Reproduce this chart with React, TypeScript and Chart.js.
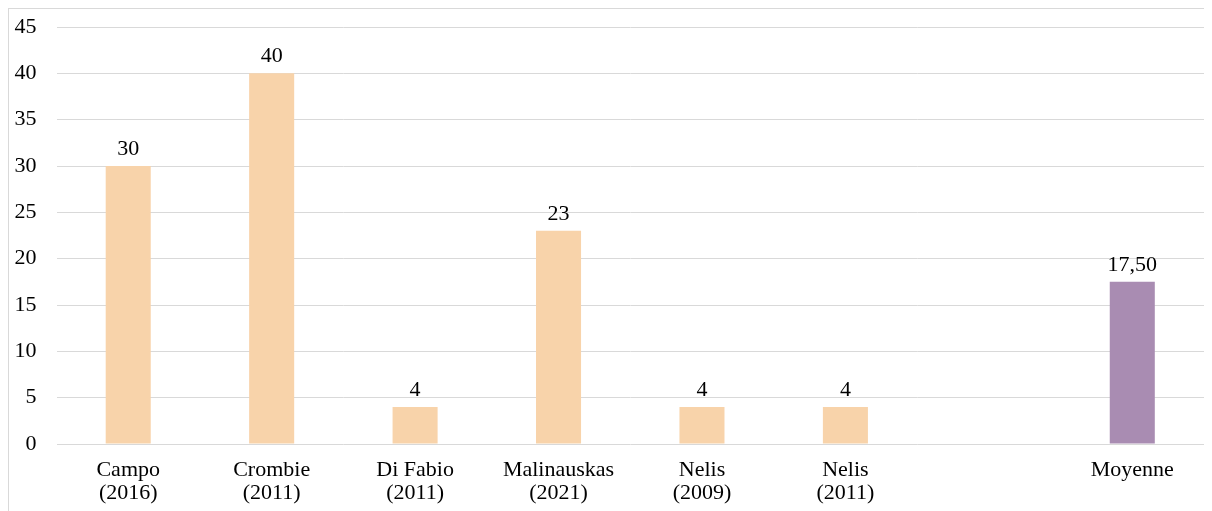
import React, { useEffect, useRef } from "react";
import { Chart, registerables } from "chart.js";

Chart.register(...registerables);

const categories: (string | string[])[] = [
  ["Campo", "(2016)"],
  ["Crombie", "(2011)"],
  ["Di Fabio", "(2011)"],
  ["Malinauskas", "(2021)"],
  ["Nelis", "(2009)"],
  ["Nelis", "(2011)"],
  "",
  "Moyenne",
];
const values: (number | null)[] = [30, 40, 4, 23, 4, 4, null, 17.5];
const valueLabels: string[] = ["30", "40", "4", "23", "4", "4", "", "17,50"];
const barColors: string[] = [
  "#F8D3AA",
  "#F8D3AA",
  "#F8D3AA",
  "#F8D3AA",
  "#F8D3AA",
  "#F8D3AA",
  "#F8D3AA",
  "#A98CB2",
];
const yTicks = { min: 0, max: 45, step: 5 };

const FONT = "'Liberation Serif', 'Times New Roman', serif";

const dataLabelPlugin = {
  id: "dataLabels",
  afterDatasetsDraw(chart: any) {
    const ctx = chart.ctx;
    const meta = chart.getDatasetMeta(0);
    ctx.save();
    ctx.font = `22px ${FONT}`;
    ctx.fillStyle = "#000";
    ctx.textAlign = "center";
    ctx.textBaseline = "alphabetic";
    meta.data.forEach((bar: any, i: number) => {
      if (values[i] == null) return;
      ctx.fillText(valueLabels[i], bar.x, bar.y - 11);
    });
    ctx.restore();
  },
};

export default function App() {
  const ref = useRef<HTMLCanvasElement>(null);
  useEffect(() => {
    if (!ref.current) return;
    const chart = new Chart(ref.current, {
      type: "bar",
      data: {
        labels: categories,
        datasets: [
          {
            data: values,
            backgroundColor: barColors,
            barPercentage: 0.314,
            categoryPercentage: 1,
          },
        ],
      },
      options: {
        animation: false,
        responsive: false,
        devicePixelRatio: 1,
        layout: { padding: { top: 18, left: 0, right: 0, bottom: 0 } },
        plugins: { legend: { display: false }, tooltip: { enabled: false } },
        scales: {
          x: {
            grid: { display: false, drawTicks: false },
            border: { display: false },
            ticks: {
              color: "#000",
              font: { family: FONT, size: 22, lineHeight: 1.05 },
              padding: 15,
              maxRotation: 0,
              autoSkip: false,
            },
            afterFit: (s: any) => {
              s.height = 67;
              s.paddingLeft = 0;
              s.paddingRight = 0;
            },
          },
          y: {
            min: yTicks.min,
            max: yTicks.max,
            grid: { color: "#D9D9D9", drawTicks: false, lineWidth: 1 },
            border: { display: false },
            ticks: {
              stepSize: yTicks.step,
              color: "#000",
              font: { family: FONT, size: 22 },
              padding: 20,
            },
            afterFit: (s: any) => {
              s.width = 47.5;
              s.paddingTop = 0;
              s.paddingBottom = 0;
            },
          },
        },
      },
      plugins: [dataLabelPlugin],
    });
    return () => chart.destroy();
  }, []);
  return (
    <div
      style={{
        width: 1196,
        height: 503,
        borderLeft: "1px solid #D9D9D9",
        borderTop: "1px solid #D9D9D9",
        boxSizing: "border-box",
        background: "#fff",
      }}
    >
      <canvas ref={ref} width={1195} height={502} style={{ display: "block" }} />
    </div>
  );
}
